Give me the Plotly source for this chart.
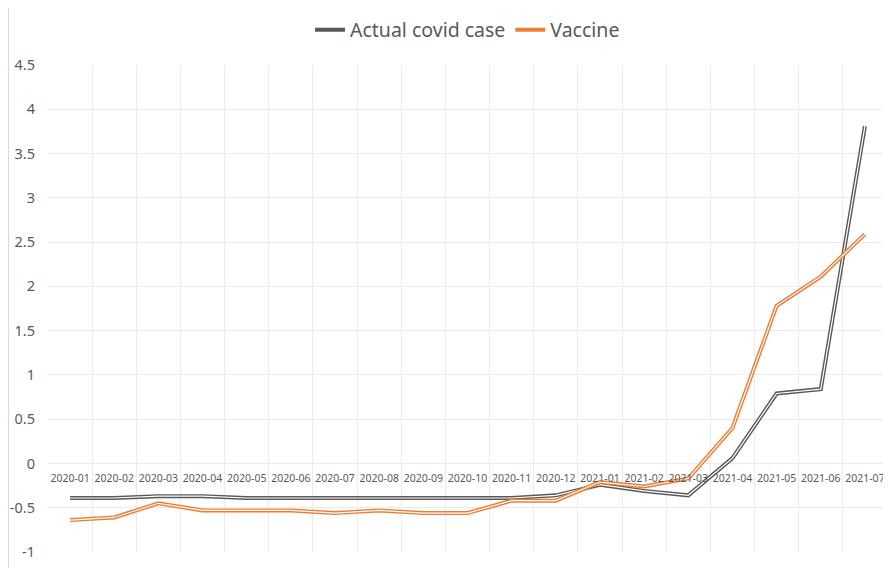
import plotly.graph_objects as go

months = ["2020-01","2020-02","2020-03","2020-04","2020-05","2020-06","2020-07",
          "2020-08","2020-09","2020-10","2020-11","2020-12","2021-01","2021-02",
          "2021-03","2021-04","2021-05","2021-06","2021-07"]
actual = [-0.39,-0.39,-0.37,-0.37,-0.39,-0.39,-0.39,-0.39,-0.39,-0.39,-0.39,-0.36,
          -0.24,-0.31,-0.36,0.06,0.79,0.84,3.81]
vaccine = [-0.64,-0.61,-0.45,-0.53,-0.53,-0.53,-0.56,-0.53,-0.56,-0.56,-0.42,-0.42,
           -0.21,-0.26,-0.17,0.40,1.78,2.11,2.59]
y_ticks = [-1,-0.5,0,0.5,1,1.5,2,2.5,3,3.5,4,4.5]
y_tick_text = ["-1","-0.5","0","0.5","1","1.5","2","2.5","3","3.5","4","4.5"]

GRAY = "#595959"
ORANGE = "#ED7D31"
FONT = "Noto Sans"

fig = go.Figure()
for name, vals, col in [("Actual covid case", actual, GRAY), ("Vaccine", vaccine, ORANGE)]:
    fig.add_trace(go.Scatter(x=months, y=vals, mode="lines", name=name, legendgroup=name,
                             line=dict(color=col, width=4), showlegend=True))
    fig.add_trace(go.Scatter(x=months, y=vals, mode="lines", name=name, legendgroup=name,
                             line=dict(color="white", width=1.2), showlegend=False,
                             hoverinfo="skip"))

ymin, ymax = -1, 4.5
# the page body adds an 8px offset; compensate so the plot sits where the reference has it
W, H = 883, 560
L, R, T, B = 40, 4, 57, 16
fig.update_layout(
    width=W, height=H,
    margin=dict(l=L, r=R, t=T, b=B, autoexpand=False),
    paper_bgcolor="white", plot_bgcolor="white",
    font=dict(family=FONT, color=GRAY),
    legend=dict(orientation="h", x=0.5, xanchor="center", y=1 - 22 / H, yanchor="middle",
                yref="container", itemwidth=30,
                font=dict(size=19.5, color=GRAY, family=FONT)),
    xaxis=dict(type="category", range=[-0.5, 18.5], tickson="boundaries",
               showgrid=True, gridcolor="#ebebeb", gridwidth=1, automargin=False,
               anchor="free", position=(0 - ymin) / (ymax - ymin),
               showline=False, ticks="", zeroline=False, ticklabelstandoff=7,
               tickfont=dict(size=10.5, color=GRAY, family=FONT), tickangle=0),
    yaxis=dict(range=[ymin, ymax], tickvals=y_ticks, ticktext=y_tick_text,
               showgrid=True, gridcolor="#ebebeb", gridwidth=1, zeroline=False,
               showline=False, ticks="", ticklabelstandoff=12, automargin=False,
               tickfont=dict(size=14.5, color=GRAY, family=FONT)),
)
pw = W - L - R
fx = -(L - 0.5) / pw
fig.add_shape(type="line", xref="paper", yref="paper", x0=fx, x1=fx, y0=-0.04, y1=1.12,
              line=dict(color="#d9d9d9", width=1))
fig.write_html("out.html")
